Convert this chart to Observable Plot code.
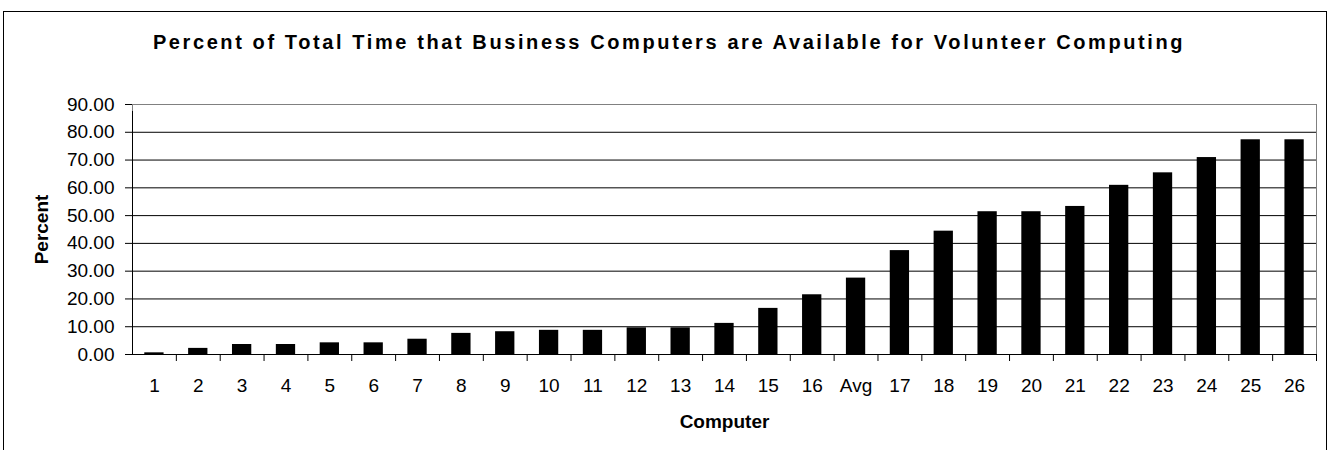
<!DOCTYPE html>
<html>
<head>
<meta charset="utf-8">
<script src="https://cdn.jsdelivr.net/npm/d3@7"></script>
<script src="https://cdn.jsdelivr.net/npm/@observablehq/plot@0.6"></script>
<style>
  html, body { margin: 0; padding: 0; background: #fff; }
  #wrap { position: relative; width: 1330px; height: 450px; overflow: hidden; background: #fff; }
  #border { position: absolute; left: 3px; top: 11px; width: 1322px; height: 520px; border: 1px solid #000; box-sizing: content-box; }
  #title { position: absolute; left: 669px; top: 31.5px; transform: translateX(-50%); white-space: nowrap;
           font-family: "Liberation Sans", Arial, sans-serif; font-weight: bold; font-size: 20px; line-height: 20px;
           letter-spacing: 2.6px; color: #000; }
  #chart { position: absolute; left: 0; top: 0; }
</style>
</head>
<body>
<div id="wrap">
  <div id="border"></div>
  <div id="chart"></div>
  <div id="title">Percent of Total Time that Business Computers are Available for Volunteer Computing</div>
</div>
<script>
const categories = ["1","2","3","4","5","6","7","8","9","10","11","12","13","14","15","16","Avg","17","18","19","20","21","22","23","24","25","26"];
const percents = [0.6, 2.2, 3.6, 3.6, 4.2, 4.2, 5.5, 7.6, 8.2, 8.7, 8.7, 9.6, 9.6, 11.2, 16.6, 21.5, 27.5, 37.4, 44.4, 51.4, 51.4, 53.3, 60.9, 65.4, 70.9, 77.3, 77.3];
const yTicks = [0, 10, 20, 30, 40, 50, 60, 70, 80, 90];
const gridTicks = [10, 20, 30, 40, 50, 60, 70, 80];
const yLabel = "Percent";
const xLabel = "Computer";

const data = categories.map((c, i) => ({computer: c, percent: percents[i]}));

const width = 1330, height = 450;
const marginLeft = 132, marginRight = 14, marginTop = 104, marginBottom = 96;
const step = (width - marginLeft - marginRight) / categories.length;
const last = categories[categories.length - 1];

const chart = Plot.plot({
  width, height, marginLeft, marginRight, marginTop, marginBottom,
  style: {fontFamily: "'Liberation Sans', Arial, sans-serif", fontSize: "19px", color: "#000", background: "transparent", overflow: "visible"},
  x: {domain: categories, paddingInner: 0.56, paddingOuter: 0.28, round: false, label: null},
  y: {domain: [0, 90], label: null},
  marks: [
    Plot.frame({stroke: "#808080"}),
    Plot.ruleY(gridTicks, {stroke: "#000", strokeWidth: 1}),
    Plot.barY(data, {x: "computer", y: "percent", fill: "#000"}),
    Plot.ruleY([0], {stroke: "#000"}),
    Plot.ruleX([categories[0]], {x: d => d, y1: 0, y2: 90, dx: -step / 2, insetBottom: -7, stroke: "#000"}),
    Plot.ruleX(categories.slice(1), {x: d => d, y1: 0, y2: 0, dx: -step / 2, insetBottom: -7, stroke: "#000"}),
    Plot.ruleX([last], {x: d => d, y1: 0, y2: 0, dx: step / 2, insetBottom: -7, stroke: "#000"}),
    Plot.axisY(yTicks, {tickFormat: d => d.toFixed(2), tickSize: 7, tickPadding: 11, label: null}),
    Plot.axisX({tickSize: 0, tickPadding: 24, label: null}),
    Plot.text([yLabel], {frameAnchor: "left", text: d => d, rotate: -90, textAnchor: "middle", lineAnchor: "middle", dx: -91, fontWeight: "bold", fontSize: 19}),
    Plot.text([xLabel], {frameAnchor: "bottom", text: d => d, textAnchor: "middle", lineAnchor: "middle", dy: 67.5, fontWeight: "bold", fontSize: 19})
  ]
});
document.getElementById("chart").appendChild(chart);
</script>
</body>
</html>
